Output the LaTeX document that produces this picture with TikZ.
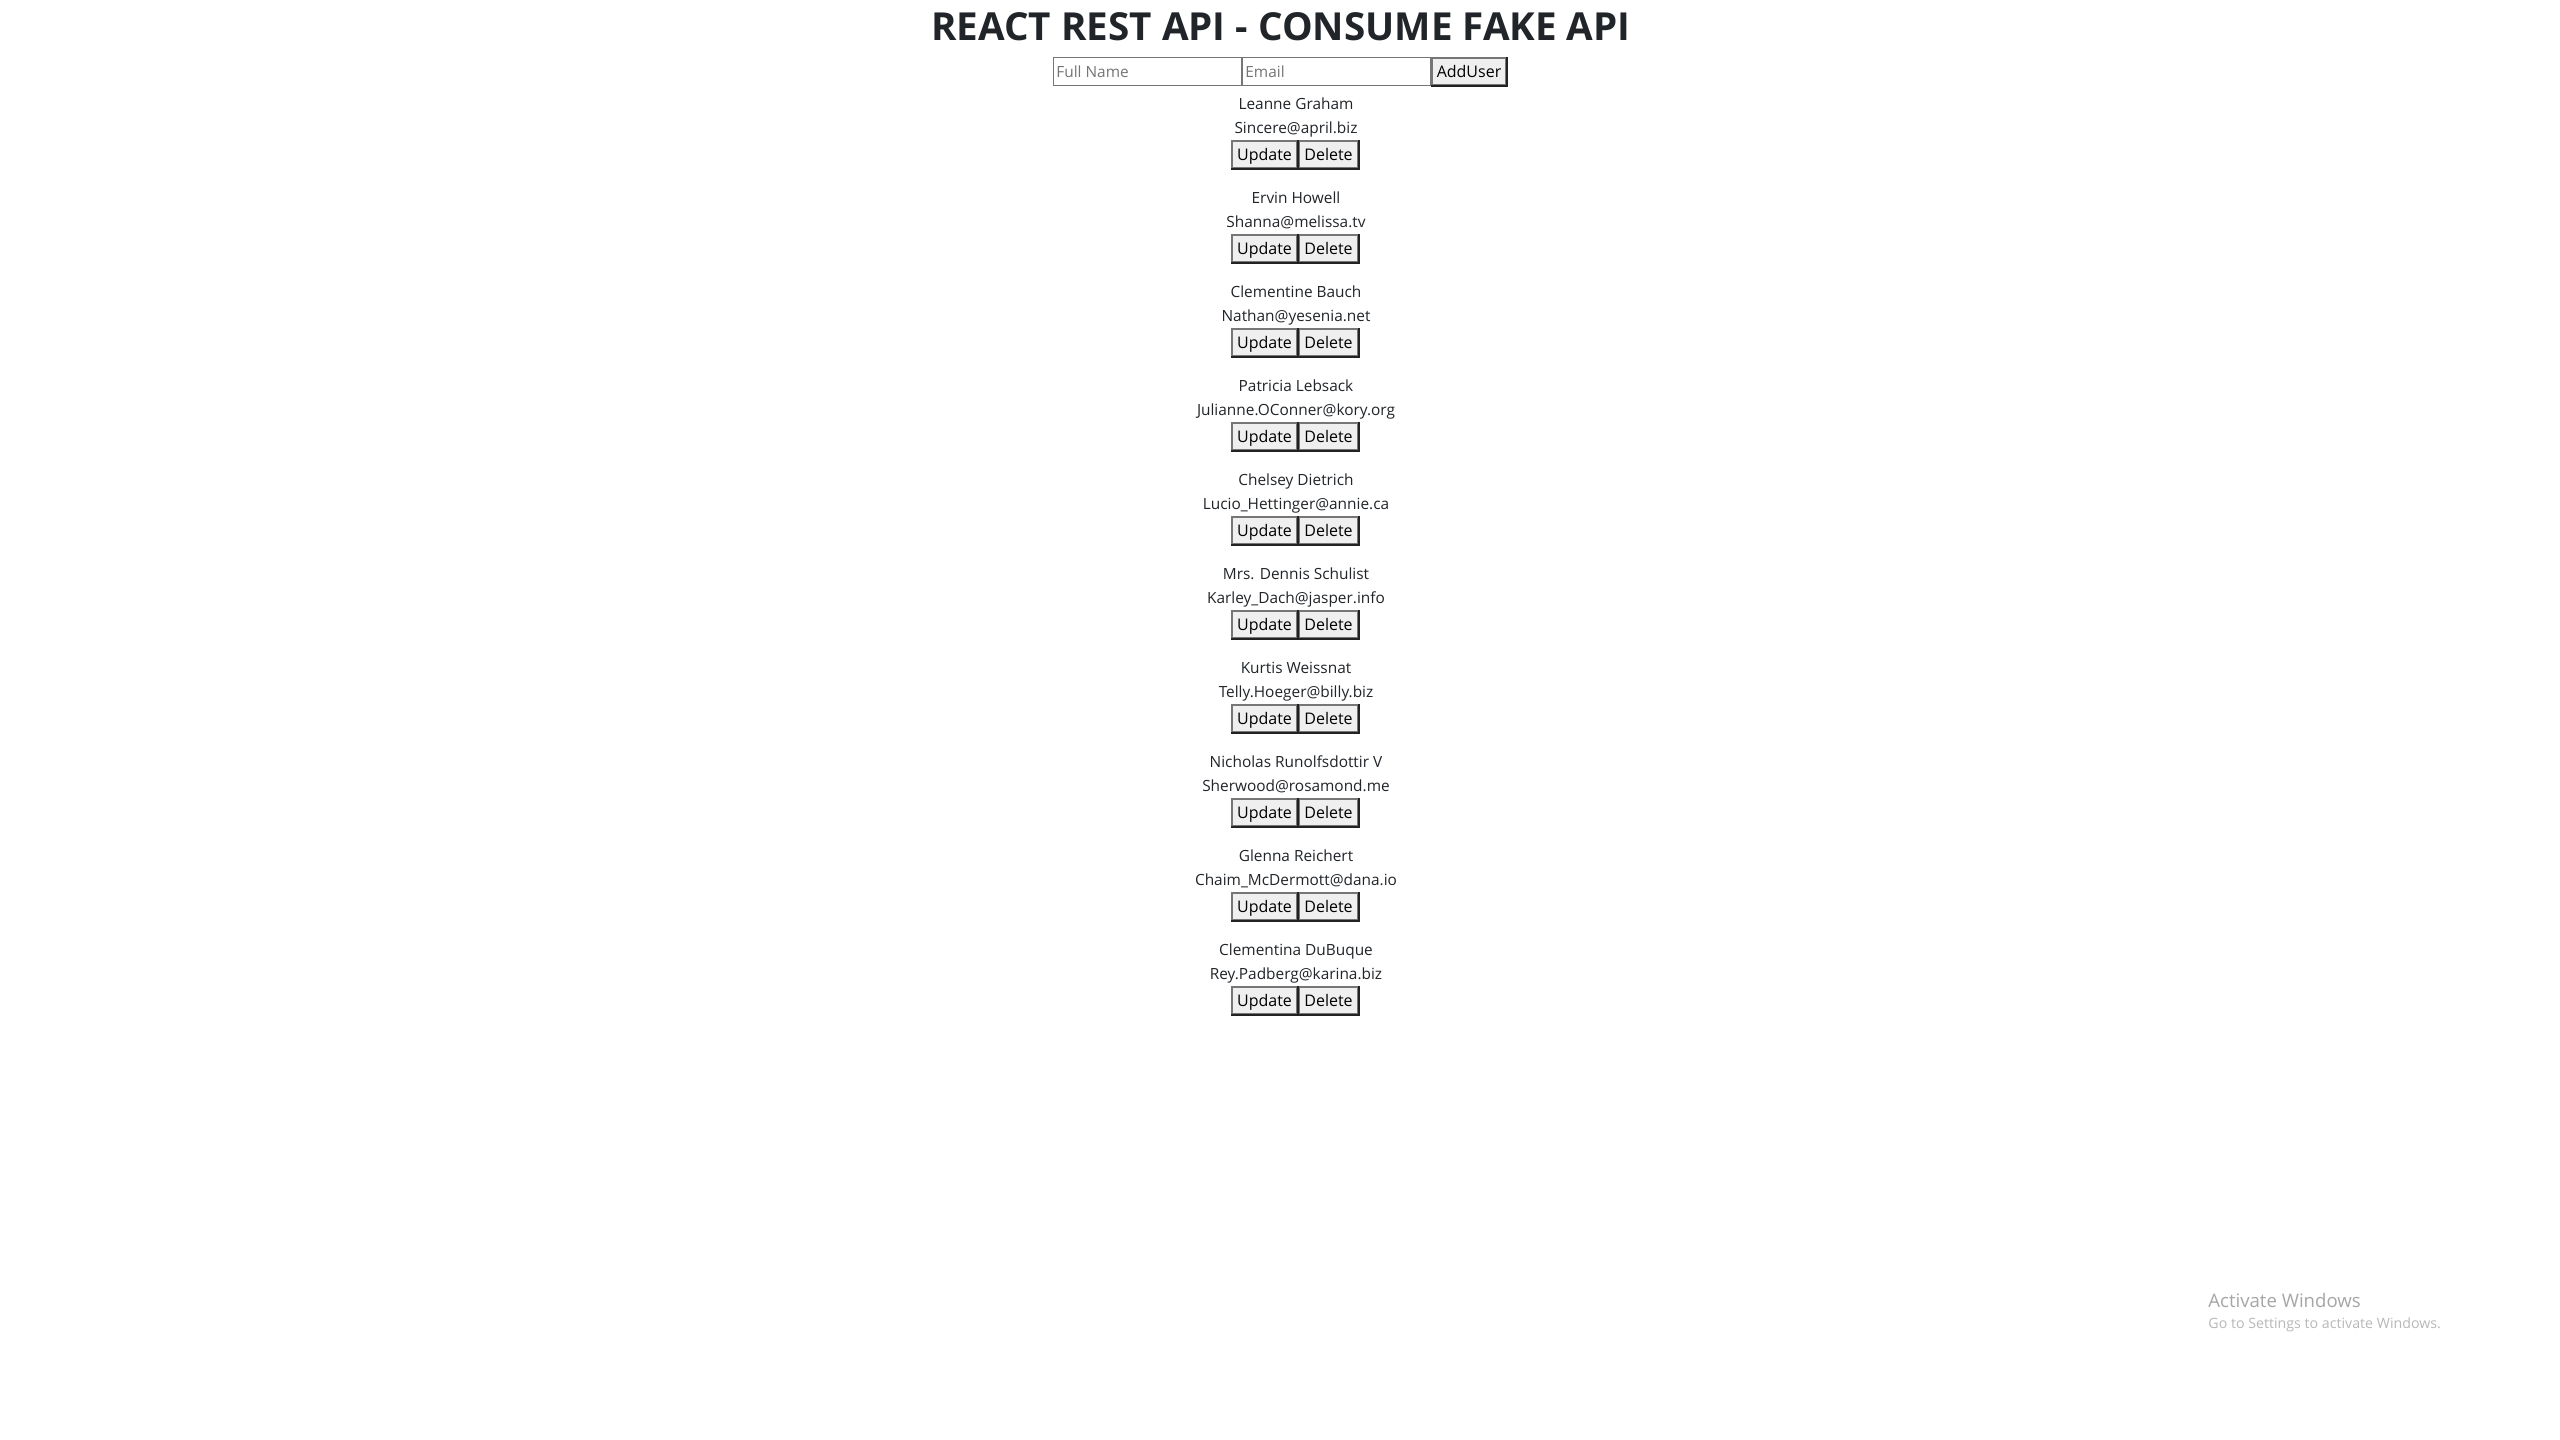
\documentclass[tikz,border=0pt]{standalone}
\usepackage{fontspec}
\setmainfont{Open Sans}
\usepackage{tikz}
\usetikzlibrary{positioning}
\definecolor{ink}{HTML}{212529}
\definecolor{hintgray}{HTML}{757575}
\definecolor{fieldgray}{HTML}{767676}
\definecolor{btnfill}{HTML}{EFEFEF}
\definecolor{btnlight}{HTML}{767676}
\definecolor{btndark}{HTML}{222222}
\definecolor{winA}{HTML}{A6A6A6}
\definecolor{winB}{HTML}{B8B8B8}

\begin{document}
\begin{tikzpicture}[x=0.5pt,y=-0.5pt,
  txt/.style={inner sep=0pt,anchor=base,text=ink,font=\fontsize{7.7}{9.2}\selectfont},
  field/.style={draw=fieldgray,line width=0.5pt,minimum width=94pt,minimum height=14pt,inner sep=0pt},
  hint/.style={inner sep=0pt,anchor=west,text=hintgray,font=\fontsize{7.7}{9.2}\selectfont},
  btn/.style={fill=btnfill,draw=btnlight,line width=1pt,minimum height=13.5pt,inner sep=0pt,
    text height=6.5pt,text depth=0.5pt,text=black,font=\fontsize{8}{9.6}\selectfont},
  shade/.style={draw=btndark,line width=1pt}]

  % Page
  \fill[white] (0,0) rectangle (2560,1440);
  \useasboundingbox (0,0) rectangle (2560,1440);

  % Title
  \node[inner sep=0pt,anchor=base,text=ink,font=\bfseries\fontsize{19.3}{23}\selectfont] (title) at (1281,40) {REACT REST API - CONSUME FAKE API};

  % Form row
  \node[field] (full) at (1147.5,71.5) {};
  \node[field,right=0pt of full] (mail) {};
  \node[btn,minimum width=37pt,right=0pt of mail] (add) {AddUser};
  \draw[shade] (add.north east) -- (add.south east) -- (add.south west);
  \node[hint,right=1.5pt of full.west] (fullhint) {Full Name};
  \node[hint,right=1.5pt of mail.west] (mailhint) {Email};

  % Users
  \foreach \name/\mail [count=\i from 0] in {
      Leanne Graham/Sincere@april.biz,
      Ervin Howell/Shanna@melissa.tv,
      Clementine Bauch/Nathan@yesenia.net,
      Patricia Lebsack/Julianne.OConner@kory.org,
      Chelsey Dietrich/Lucio\_Hettinger@annie.ca,
      Mrs. Dennis Schulist/Karley\_Dach@jasper.info,
      Kurtis Weissnat/Telly.Hoeger@billy.biz,
      Nicholas Runolfsdottir V/Sherwood@rosamond.me,
      Glenna Reichert/Chaim\_McDermott@dana.io,
      Clementina DuBuque/Rey.Padberg@karina.biz} {
    \node[txt] (name\i) at (1296,{109+94*\i}) {\name};
    \node[txt] (mail\i) at (1296,{133+94*\i}) {\mail};
    \node[btn,minimum width=32.5pt] (upd\i) at (1264.5,{154.5+94*\i}) {Update};
    \node[btn,minimum width=29.5pt,right=0pt of upd\i] (del\i) {Delete};
    \draw[shade] (upd\i.north east) -- (upd\i.south east) -- (upd\i.south west);
    \draw[shade] (del\i.north east) -- (del\i.south east) -- (del\i.south west);
  }

  % Watermark
  \node[inner sep=0pt,anchor=base west,text=winA,font=\fontsize{9.3}{11}\selectfont] (winhead) at (2208,1307) {Activate Windows};
  \node[inner sep=0pt,anchor=base west,text=winB,font=\fontsize{7.1}{8.5}\selectfont] (winsub) at (2208,1328) {Go to Settings to activate Windows.};

\end{tikzpicture}
\end{document}
